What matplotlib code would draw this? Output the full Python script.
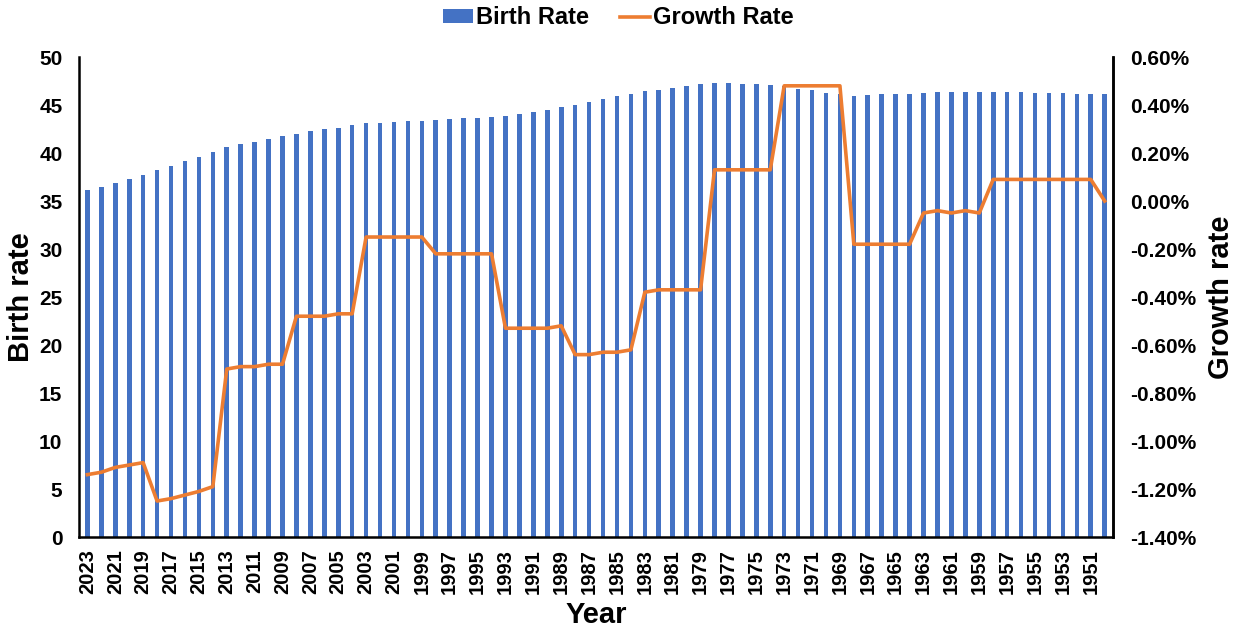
import matplotlib
matplotlib.use("Agg")
import matplotlib.pyplot as plt
from matplotlib.ticker import FuncFormatter

plt.rcParams["font.family"] = ["Liberation Sans", "DejaVu Sans"]
plt.rcParams["font.weight"] = "bold"

# categories, newest first as in the source chart
years = list(range(2023, 1949, -1))

birth_rate = [
    36.1, 36.5, 36.9, 37.3, 37.7, 38.2, 38.7, 39.2, 39.6, 40.1,      # 2023-2014
    40.6, 40.9, 41.2, 41.5, 41.8, 42.0, 42.3, 42.5, 42.6, 42.9,      # 2013-2004
    43.1, 43.1, 43.2, 43.3, 43.3, 43.4, 43.5, 43.6, 43.6, 43.75,     # 2003-1994
    43.85, 44.1, 44.3, 44.5, 44.8, 45.0, 45.3, 45.6, 45.9, 46.2,     # 1993-1984
    46.5, 46.6, 46.8, 47.0, 47.2, 47.3, 47.3, 47.2, 47.2, 47.1,      # 1983-1974
    47.0, 46.7, 46.6, 46.3, 46.1, 45.9, 46.0, 46.1, 46.1, 46.2,      # 1973-1964
    46.3, 46.35, 46.4, 46.4, 46.4, 46.4, 46.4, 46.35, 46.3, 46.3,    # 1963-1954
    46.25, 46.2, 46.15, 46.1,                                        # 1953-1950
]

# growth rate in percent
growth_rate = [
    -1.14, -1.13, -1.11, -1.10, -1.09, -1.25, -1.24, -1.225, -1.21, -1.19,
    -0.70, -0.69, -0.69, -0.68, -0.68, -0.48, -0.48, -0.48, -0.47, -0.47,
    -0.15, -0.15, -0.15, -0.15, -0.15, -0.22, -0.22, -0.22, -0.22, -0.22,
    -0.53, -0.53, -0.53, -0.53, -0.52, -0.64, -0.64, -0.63, -0.63, -0.62,
    -0.38, -0.37, -0.37, -0.37, -0.37, 0.13, 0.13, 0.13, 0.13, 0.13,
    0.48, 0.48, 0.48, 0.48, 0.48, -0.18, -0.18, -0.18, -0.18, -0.18,
    -0.05, -0.04, -0.05, -0.04, -0.05, 0.09, 0.09, 0.09, 0.09, 0.09,
    0.09, 0.09, 0.09, 0.00,
]

BLUE = "#4472C4"
ORANGE = "#ED7D31"

x = list(range(len(years)))


def pct(v, pos):
    v = round(v, 2)
    if v == 0:
        v = 0.0
    return f"{v:.2f}%"


fig = plt.figure(figsize=(12.37, 6.35), dpi=100)
ax1 = fig.add_axes([0.0639, 0.1543, 0.8359, 0.7559])

bars = ax1.bar(x, birth_rate, width=0.33, color=BLUE, label="Birth Rate", zorder=2)
ax1.set_ylim(0, 50)
ax1.set_yticks(range(0, 51, 5))
ax1.set_xlim(-0.6, len(years) - 0.4)

# label every other year
tick_idx = x[::2]
ax1.set_xticks(tick_idx)
ax1.set_xticklabels([str(years[i]) for i in tick_idx], rotation=90, fontsize=14.5, fontweight="bold")
ax1.tick_params(axis="both", length=0)
ax1.tick_params(axis="x", pad=9)
ax1.tick_params(axis="y", pad=12, labelsize=15)
ax1.set_ylabel("Birth rate", fontsize=21, fontweight="bold", labelpad=3)
ax1.set_xlabel("Year", fontsize=21, fontweight="bold", labelpad=5)

ax2 = ax1.twinx()
line, = ax2.plot(x, growth_rate, color=ORANGE, lw=2.6, label="Growth Rate", zorder=3)
ax2.set_ylim(-1.4, 0.6)
ax2.set_yticks([0.6 - 0.2 * k for k in range(11)])
ax2.yaxis.set_major_formatter(FuncFormatter(pct))
ax2.tick_params(axis="y", length=0, pad=12, labelsize=15)
ax2.set_ylabel("Growth rate", fontsize=21, fontweight="bold", labelpad=8)

for a in (ax1, ax2):
    a.spines["top"].set_visible(False)
    for s in ("left", "right", "bottom"):
        a.spines[s].set_color("black")
        a.spines[s].set_linewidth(1.8)
ax2.spines["left"].set_visible(False)
ax2.spines["bottom"].set_visible(False)

fig.legend([bars, line], ["Birth Rate", "Growth Rate"], loc="center",
           bbox_to_anchor=(0.5, 0.972), ncol=2, frameon=False,
           prop={"size": 17, "weight": "bold"}, handlelength=1.25,
           handleheight=0.55, handletextpad=0.15, columnspacing=1.3)

fig.savefig("out.png", dpi=100)
